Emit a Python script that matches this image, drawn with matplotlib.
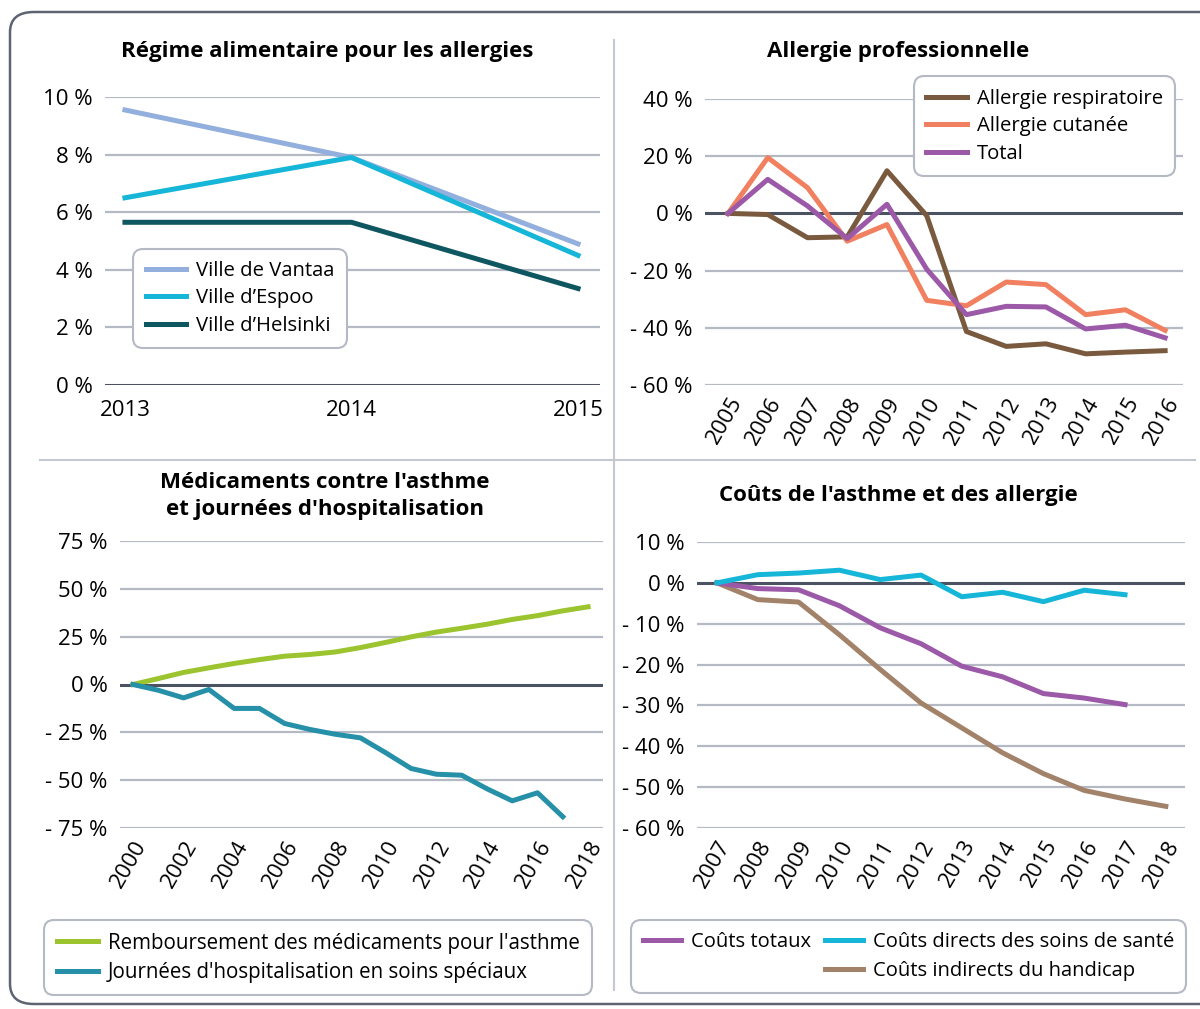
import matplotlib
matplotlib.use("Agg")
import matplotlib.pyplot as plt
from matplotlib.patches import FancyBboxPatch
from matplotlib.lines import Line2D

plt.rcParams['font.family'] = ['Open Sans', 'DejaVu Sans']

# --- data -------------------------------------------------------------
diet_years = [2013, 2014, 2015]
vantaa = [9.55, 7.9, 4.9]
espoo = [6.5, 7.9, 4.5]
helsinki = [5.65, 5.65, 3.35]

occ_years = list(range(2005, 2017))
respiratoire = [0, -0.4, -8.5, -8.2, 14.9, -0.8, -41.3, -46.5, -45.6, -49.1, -48.5, -48.0]
cutanee = [0, 19.5, 9.0, -9.7, -3.9, -30.4, -32.3, -24.0, -24.9, -35.4, -33.7, -40.9]
total_occ = [0, 11.9, 2.6, -8.8, 3.2, -19.5, -35.4, -32.5, -32.7, -40.4, -39.1, -43.5]

med_years = list(range(2000, 2019))
rembours = [0, 3.1, 6.3, 8.7, 11.0, 13.0, 14.8, 15.7, 17.0, 19.3, 22.0, 24.9,
            27.4, 29.4, 31.5, 34.0, 36.0, 38.5, 40.6]
hosp_years = list(range(2000, 2018))
hosp = [0, -3.0, -7.0, -2.6, -12.5, -12.5, -20.4, -23.5, -26.0, -27.9, -35.7,
        -43.9, -46.9, -47.4, -54.5, -60.8, -56.6, -69.1]

cost_years = list(range(2007, 2019))
couts_totaux = [0, -1.4, -1.7, -5.6, -11.0, -14.9, -20.4, -23.0, -27.1, -28.2, -29.8]
couts_directs = [0, 2.0, 2.4, 3.1, 0.8, 1.9, -3.4, -2.3, -4.6, -1.8, -2.9]
couts_indirects = [0, -4.1, -4.7, -12.7, -21.2, -29.4, -35.5, -41.6, -46.7, -50.8, -52.9, -54.7]

W, H = 1200, 1009
fig = plt.figure(figsize=(W / 100, H / 100), dpi=100)

GRID = '#b4b9c4'
ZERO = '#4b5262'
LW = 3.6
FS = 16      # tick labels
LFS = 14.6   # legends
TFS = 16     # titles


def px(l, t, r, b):
    return [l / W, 1 - b / H, (r - l) / W, (b - t) / H]


def pct(v):
    return f"{v} %" if v >= 0 else f"- {abs(v)} %"


def setup(ax, yticks, zero, xlim):
    ax.set_xlim(*xlim)
    ax.set_ylim(yticks[0], yticks[-1])
    for s in ax.spines.values():
        s.set_visible(False)
    for v in yticks:
        if v == zero:
            ax.axhline(v, color=ZERO, lw=2.2, zorder=1)
        else:
            ax.axhline(v, color=GRID, lw=1.6, zorder=1)
    ax.set_yticks(yticks)
    ax.set_yticklabels([pct(v) for v in yticks])
    ax.tick_params(length=0, labelsize=FS, pad=9)


def legend_style(leg):
    fr = leg.get_frame()
    fr.set_edgecolor('#b4b9c4')
    fr.set_linewidth(1.5)
    fr.set_boxstyle('round,pad=0.2,rounding_size=0.5')


lkw = dict(fontsize=LFS, handlelength=2.0, frameon=True, framealpha=1,
           borderpad=0.4, labelspacing=0.38, handletextpad=0.5)

# panel 1
ax1 = fig.add_axes(px(105, 97, 600, 385))
setup(ax1, [0, 2, 4, 6, 8, 10], 0, (2012.912, 2015.097))
ax1.plot(diet_years, vantaa, color='#93afdd', lw=LW, label='Ville de Vantaa', zorder=3)
ax1.plot(diet_years, espoo, color='#16b6d9', lw=LW, label='Ville d\u2019Espoo', zorder=3)
ax1.plot(diet_years, helsinki, color='#0e5660', lw=LW, label='Ville d\u2019Helsinki', zorder=3)
ax1.set_xticks(diet_years)
ax1.tick_params(axis='x', pad=11)
leg = ax1.legend(loc='upper left', bbox_to_anchor=(0.045, 0.495), **lkw)
legend_style(leg)

# panel 2
ax2 = fig.add_axes(px(705, 99, 1183, 385))
setup(ax2, [-60, -40, -20, 0, 20, 40], 0, (2004.42, 2016.45))
ax2.plot(occ_years, respiratoire, color='#7a5a3e', lw=LW, label='Allergie respiratoire', zorder=3)
ax2.plot(occ_years, cutanee, color='#f0805f', lw=LW, label='Allergie cutanée', zorder=3)
ax2.plot(occ_years, total_occ, color='#9b59a8', lw=LW, label='Total', zorder=3)
ax2.set_xticks(occ_years)
ax2.set_xticklabels([str(y) for y in occ_years], rotation=60, ha='right',
                    rotation_mode='anchor')
ax2.tick_params(axis='x', pad=6)
leg = ax2.legend(loc='upper right', bbox_to_anchor=(0.997, 1.1), **lkw)
legend_style(leg)

# panel 3
ax3 = fig.add_axes(px(120, 541, 603, 828))
setup(ax3, [-75, -50, -25, 0, 25, 50, 75], 0, (1999.486, 2018.59))
l_r, = ax3.plot(med_years, rembours, color='#9bc42f', lw=LW, zorder=3)
l_h, = ax3.plot(hosp_years, hosp, color='#2690a9', lw=LW, zorder=3)
ax3.set_xticks(med_years[::2])
ax3.set_xticklabels([str(y) for y in med_years[::2]], rotation=60, ha='right',
                    rotation_mode='anchor')
ax3.tick_params(axis='x', pad=6)

# panel 4
ax4 = fig.add_axes(px(697, 542, 1185, 828))
setup(ax4, [-60, -50, -40, -30, -20, -10, 0, 10], 0, (2006.51, 2018.47))
l_t, = ax4.plot(cost_years[:len(couts_totaux)], couts_totaux, color='#9b59a8', lw=LW, zorder=3)
l_d, = ax4.plot(cost_years[:len(couts_directs)], couts_directs, color='#16b6d9', lw=LW, zorder=3)
l_i, = ax4.plot(cost_years, couts_indirects, color='#a3826a', lw=LW, zorder=2)
ax4.set_xticks(cost_years)
ax4.set_xticklabels([str(y) for y in cost_years], rotation=60, ha='right',
                    rotation_mode='anchor')
ax4.tick_params(axis='x', pad=6)

# bottom legends
bkw = dict(lkw, fontsize=14.8, handlelength=2.0, labelspacing=0.42)
leg3 = fig.legend([l_r, l_h],
                  ["Remboursement des médicaments pour l'asthme",
                   "Journées d'hospitalisation en soins spéciaux"],
                  loc='upper left', bbox_to_anchor=(38 / W, 1 - 914 / H), **bkw)
legend_style(leg3)
dummy = Line2D([], [], color='none')
bkw4 = dict(bkw, fontsize=14.5, handlelength=1.9)
leg4 = fig.legend([l_t, dummy, l_d, l_i],
                  ['Coûts totaux', '', 'Coûts directs des soins de santé',
                   'Coûts indirects du handicap'],
                  ncol=2, loc='upper left', bbox_to_anchor=(625 / W, 1 - 914 / H),
                  columnspacing=0.65, **bkw4)
legend_style(leg4)

# titles
tkw = dict(ha='center', va='center', fontsize=TFS, fontweight='bold')
fig.text(327 / W, 1 - 51 / H, 'Régime alimentaire pour les allergies', **tkw)
fig.text(898 / W, 1 - 51 / H, 'Allergie professionnelle', **tkw)
fig.text(325 / W, 1 - 496 / H, "Médicaments contre l'asthme\net journées d'hospitalisation",
         linespacing=1.4, **tkw)
fig.text(898 / W, 1 - 496 / H, "Coûts de l'asthme et des allergie", **tkw)

# dividers and outer frame
fig.add_artist(Line2D([614 / W, 614 / W], [1 - 40 / H, 1 - 990 / H], color='#c4c8d0', lw=1.5))
fig.add_artist(Line2D([40 / W, 1195 / W], [1 - 460 / H, 1 - 460 / H], color='#c4c8d0', lw=1.5))
fig.add_artist(FancyBboxPatch((10 / W, 1 - 1004 / H), 1220 / W, 992 / H,
                              boxstyle='round,pad=0,rounding_size=0.02',
                              transform=fig.transFigure, fill=False,
                              edgecolor='#5e6472', lw=1.8))

fig.savefig('out.png', dpi=100)
